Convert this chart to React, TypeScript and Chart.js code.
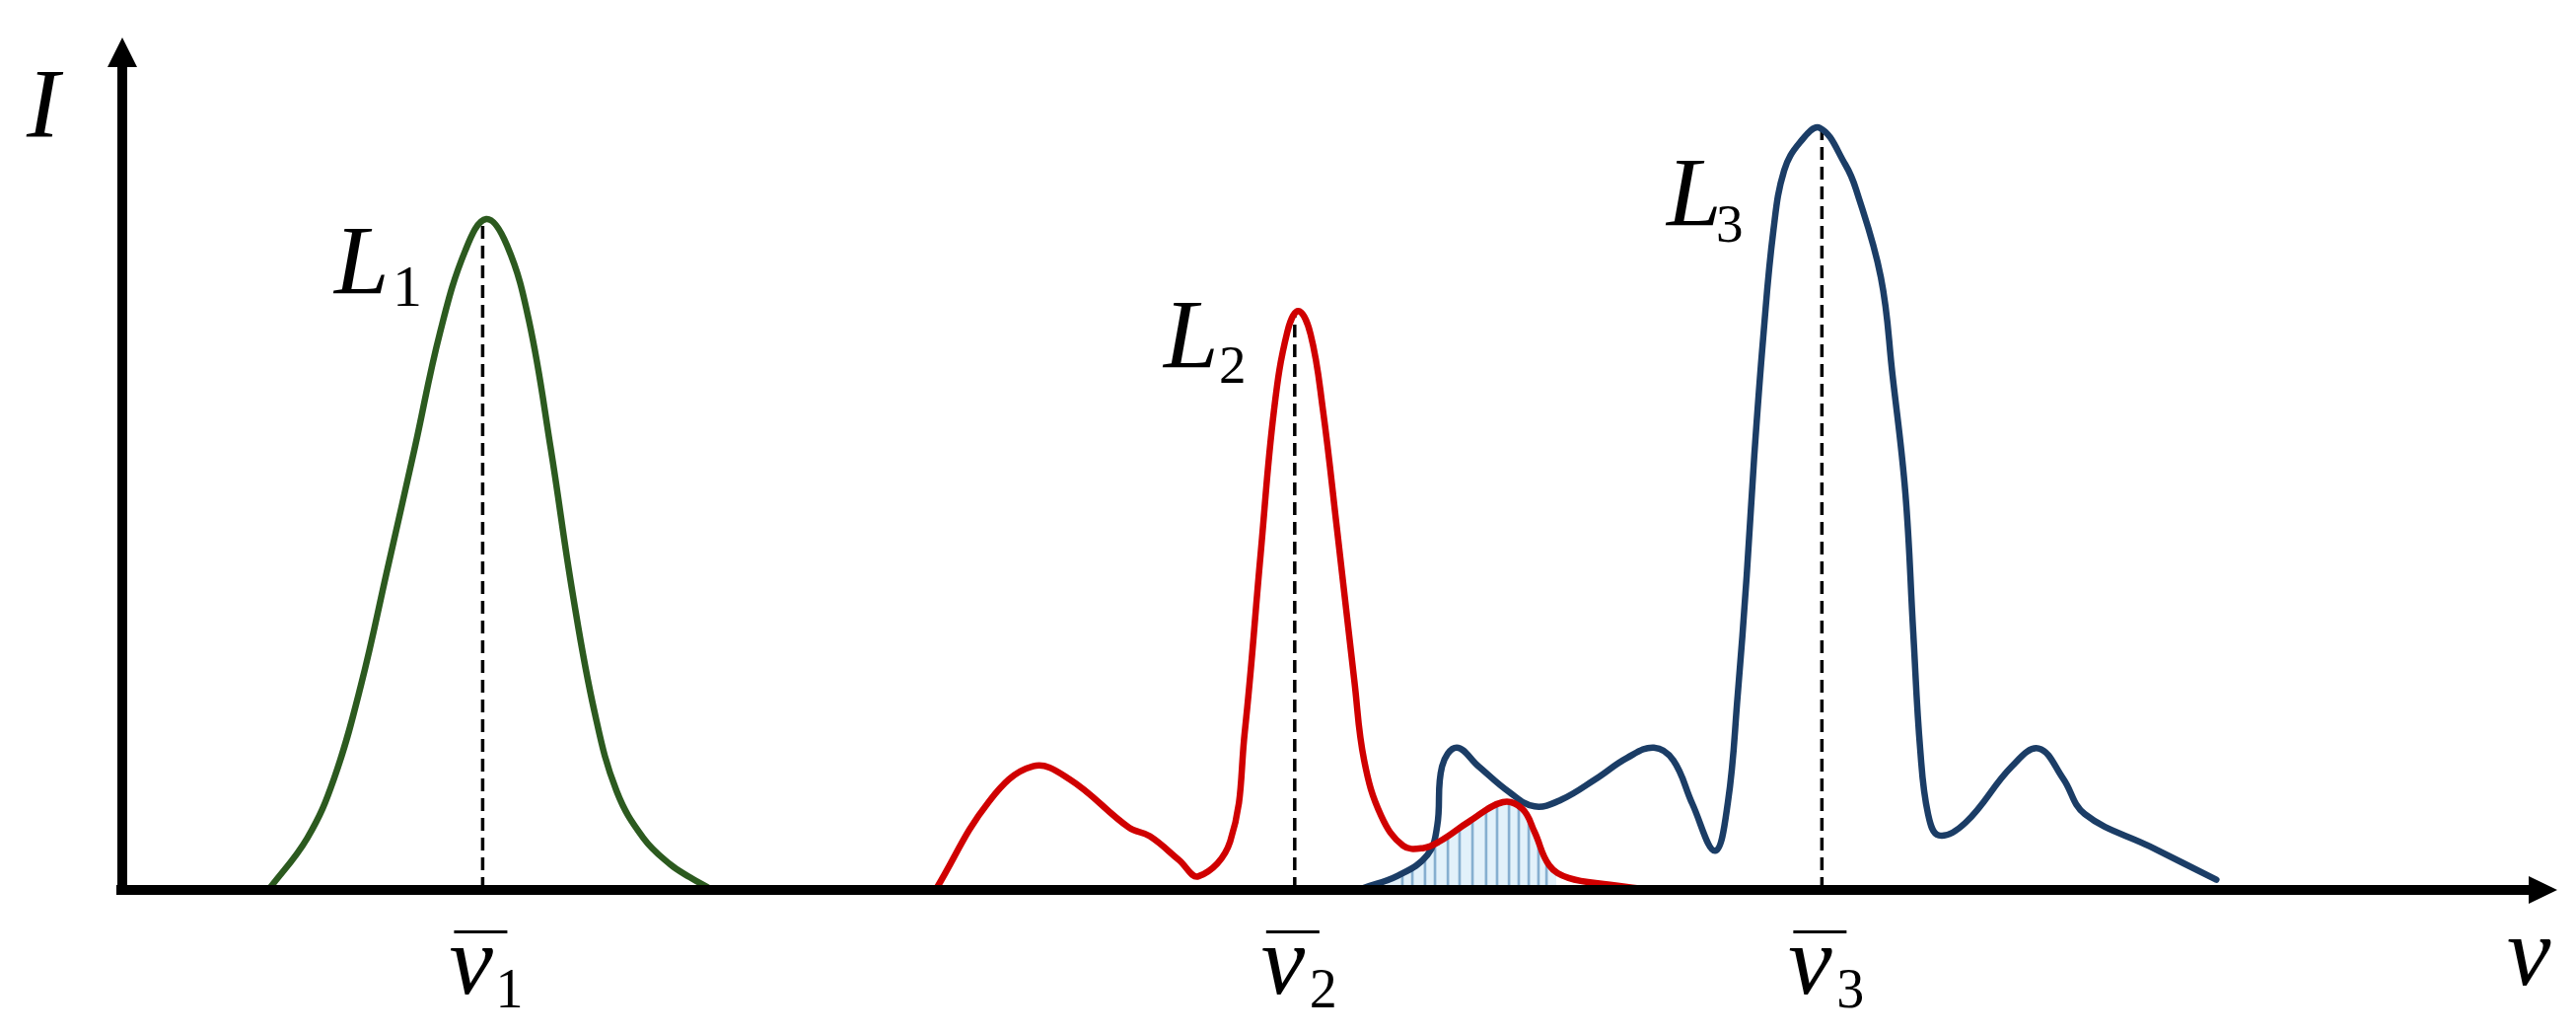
import React, { useEffect, useRef } from "react";
import { Chart, registerables } from "chart.js";

Chart.register(...registerables);

// ---- data (frequency nu in arbitrary units 0..100, intensity I in arbitrary units 0..100) ----
const L1_NU = [6.0, 7.6, 8.7, 9.8, 10.9, 12.0, 13.05, 14.1, 14.95, 15.8, 16.7, 17.6, 18.5, 19.4, 20.3, 21.4, 22.5, 23.3, 24.1];
const L1_I = [0, 6.1, 13.1, 24.0, 37.8, 51.7, 65.4, 75.1, 78.7, 75.6, 66.8, 51.7, 34.7, 20.8, 11.6, 6.1, 3.0, 1.5, 0.2];

const L2_NU = [33.4, 35.6, 37.4, 38.9, 41.35, 42.2, 43.4, 44.2, 45.5, 46.1, 46.75, 47.3, 47.85, 48.3, 48.8, 49.3, 49.9, 50.6, 51.0, 51.7, 52.6, 53.4, 54.1, 55.3, 56.7, 57.5, 58.0, 58.6, 59.4, 61.1, 62.2];
const L2_I = [0, 10.4, 14.5, 13.0, 7.3, 6.3, 3.5, 1.6, 5.7, 18.6, 39.4, 56.3, 65.5, 67.9, 65.2, 56.5, 42.0, 24.5, 15.2, 8.7, 5.2, 4.9, 5.7, 8.0, 10.3, 9.5, 6.8, 2.9, 1.4, 0.6, 0.2];

const L3_NU = [50.95, 52.4, 53.6, 54.0, 54.2, 54.8, 55.7, 56.95, 58.0, 59.1, 60.5, 61.8, 62.9, 63.7, 64.48, 65.41, 65.94, 66.34, 66.71, 67.02, 67.39, 67.81, 68.25, 68.9, 69.71, 70.76, 71.2, 72.22, 72.7, 73.23, 73.55, 73.84, 74.16, 74.6, 75.7, 77.6, 78.7, 79.7, 80.6, 83.27, 86.0];
const L3_I = [0.2, 1.7, 4.1, 7.5, 14.5, 16.7, 14.5, 11.5, 9.8, 10.6, 13.0, 15.5, 16.7, 15.2, 10.1, 4.6, 10.3, 22.8, 36.8, 50.8, 64.8, 77.4, 84.4, 87.7, 89.4, 85.1, 82.2, 71.9, 60.4, 46.5, 30.3, 16.4, 8.9, 6.4, 7.9, 14.5, 16.6, 13.1, 8.9, 5.1, 1.2];

// overlap (hatched) region between L2 and L3
const HATCH_NU = [52.57, 52.98, 53.5, 53.91, 54.44, 54.92, 55.45, 56.01, 56.46, 56.95, 57.35, 57.76, 58.16, 58.49];
const HATCH_I = [2.0, 2.5, 3.8, 5.5, 6.2, 7.2, 8.2, 9.3, 10.1, 10.2, 9.7, 8.3, 6.0, 3.7];
const OVERLAP_NU = [51.9, ...HATCH_NU, 58.9];
const OVERLAP_I = [1.0, ...HATCH_I, 2.0];

// mean frequencies (dashed lines) and their heights
const NU_BAR = [14.8, 48.15, 69.8];
const NU_BAR_TOP = [78.4, 67.7, 89.2];
const NU_BAR_SUB = ["1", "2", "3"];

// line labels: L_k anchored at (nu, I)
const L_LABEL_NU = [8.63, 42.69, 63.35];
const L_LABEL_I = [70.0, 61.3, 78.0];
const L_LABEL_SUB = ["1", "2", "3"];

const COLORS = ["#2c5a1f", "#d00000", "#1b3d66"];

const SERIF = '"Liberation Serif", "Times New Roman", "DejaVu Serif", serif';

const pts = (xs: number[], ys: number[]) => xs.map((x, i) => ({ x, y: ys[i] }));

function inkText(ctx: CanvasRenderingContext2D, text: string, font: string, inkLeft: number, baseline: number) {
  ctx.font = font;
  const m = ctx.measureText(text);
  ctx.fillText(text, inkLeft + m.actualBoundingBoxLeft, baseline);
  return inkLeft + m.actualBoundingBoxLeft + m.actualBoundingBoxRight;
}

const axesPlugin = {
  id: "arrowAxes",
  afterDatasetsDraw(chart: any) {
    const { ctx, scales } = chart;
    const xs = scales.x;
    const ys = scales.y;
    const x0 = xs.getPixelForValue(0);
    const xEnd = xs.getPixelForValue(100);
    const y0 = ys.getPixelForValue(0);
    const yEnd = ys.getPixelForValue(100);
    ctx.save();
    ctx.fillStyle = "#000";
    ctx.strokeStyle = "#000";
    ctx.lineWidth = 10;
    ctx.lineCap = "butt";
    // x axis
    ctx.beginPath();
    ctx.moveTo(x0 - 6, y0);
    ctx.lineTo(xEnd - 26, y0);
    ctx.stroke();
    ctx.beginPath();
    ctx.moveTo(xEnd, y0);
    ctx.lineTo(xEnd - 29, y0 - 14);
    ctx.lineTo(xEnd - 29, y0 + 14);
    ctx.closePath();
    ctx.fill();
    // y axis
    ctx.beginPath();
    ctx.moveTo(x0, y0 + 5);
    ctx.lineTo(x0, yEnd + 26);
    ctx.stroke();
    ctx.beginPath();
    ctx.moveTo(x0, yEnd);
    ctx.lineTo(x0 - 15, yEnd + 30);
    ctx.lineTo(x0 + 15, yEnd + 30);
    ctx.closePath();
    ctx.fill();
    ctx.restore();
  },
};

const L_SUB_FONT = [60, 55, 55];
const L_SUB_GAP = [13, 7, 1];
const L_SUB_DROP = [13, 16, 17];

const labelsPlugin = {
  id: "mathLabels",
  afterDraw(chart: any) {
    const { ctx, scales } = chart;
    const xs = scales.x;
    const ys = scales.y;
    const y0 = ys.getPixelForValue(0);
    const x0 = xs.getPixelForValue(0);
    const big = `italic 100px ${SERIF}`;
    ctx.save();
    ctx.fillStyle = "#000";
    ctx.textAlign = "left";
    ctx.textBaseline = "alphabetic";
    // axis titles
    inkText(ctx, "I", big, x0 - 98, ys.getPixelForValue(100) + 100);
    inkText(ctx, "\u03BD", big, xs.getPixelForValue(100) - 50, y0 + 96);
    // L labels
    L_LABEL_NU.forEach((nu, i) => {
      const px = xs.getPixelForValue(nu);
      const py = ys.getPixelForValue(L_LABEL_I[i]);
      const right = inkText(ctx, "L", big, px, py);
      inkText(ctx, L_LABEL_SUB[i], `${L_SUB_FONT[i]}px ${SERIF}`, right + L_SUB_GAP[i], py + L_SUB_DROP[i]);
    });
    // mean frequency tick labels with overbar
    NU_BAR.forEach((nu, i) => {
      const px = xs.getPixelForValue(nu);
      const r = inkText(ctx, "\u03BD", big, px - 33, y0 + 105);
      ctx.fillRect(px - 29, y0 + 41, 54, 3);
      inkText(ctx, NU_BAR_SUB[i], `56px ${SERIF}`, r + 6, y0 + 119);
    });
    ctx.restore();
  },
};

export default function App() {
  const ref = useRef<HTMLCanvasElement | null>(null);
  useEffect(() => {
    if (!ref.current) return;
    const curve = (xs: number[], ys: number[], color: string, order: number) => ({
      type: "line" as const,
      data: pts(xs, ys),
      borderColor: color,
      borderWidth: 6.5,
      pointRadius: 0,
      fill: false,
      tension: 0.4,
      borderJoinStyle: "round" as const,
      borderCapStyle: "round" as const,
      order,
    });
    const dashed = NU_BAR.map((nu, i) => ({
      type: "line" as const,
      data: [
        { x: nu, y: 0 },
        { x: nu, y: NU_BAR_TOP[i] },
      ],
      borderColor: "#000",
      borderWidth: 3.5,
      borderDash: [13, 7],
      pointRadius: 0,
      tension: 0,
      fill: false,
      order: 4,
    }));
    const chart = new Chart(ref.current, {
      type: "line",
      data: {
        datasets: [
          curve(L1_NU, L1_I, COLORS[0], 1),
          curve(L2_NU, L2_I, COLORS[1], 2),
          curve(L3_NU, L3_I, COLORS[2], 3),
          ...dashed,
          {
            type: "bar" as const,
            data: pts(HATCH_NU, HATCH_I),
            backgroundColor: "#86afd0",
            borderWidth: 0,
            barThickness: 2,
            order: 5,
          },
          {
            type: "line" as const,
            data: pts(OVERLAP_NU, OVERLAP_I),
            borderWidth: 0,
            pointRadius: 0,
            backgroundColor: "#e2f1fa",
            fill: "origin",
            tension: 0.4,
            order: 6,
          },
        ] as any,
      },
      options: {
        responsive: false,
        animation: false,
        devicePixelRatio: 1,
        events: [],
        layout: { padding: { left: 124, right: 19, top: 38, bottom: 146 } },
        scales: {
          x: { type: "linear", min: 0, max: 100, display: false, offset: false },
          y: { type: "linear", min: 0, max: 100, display: false, offset: false },
        },
        plugins: { legend: { display: false }, tooltip: { enabled: false } },
      } as any,
      plugins: [axesPlugin, labelsPlugin],
    });
    return () => chart.destroy();
  }, []);
  return (
    <div style={{ position: "absolute", left: 0, top: 0, width: 2612, height: 1048, background: "#fff" }}>
      <canvas ref={ref} width={2612} height={1048} style={{ display: "block" }} />
    </div>
  );
}
